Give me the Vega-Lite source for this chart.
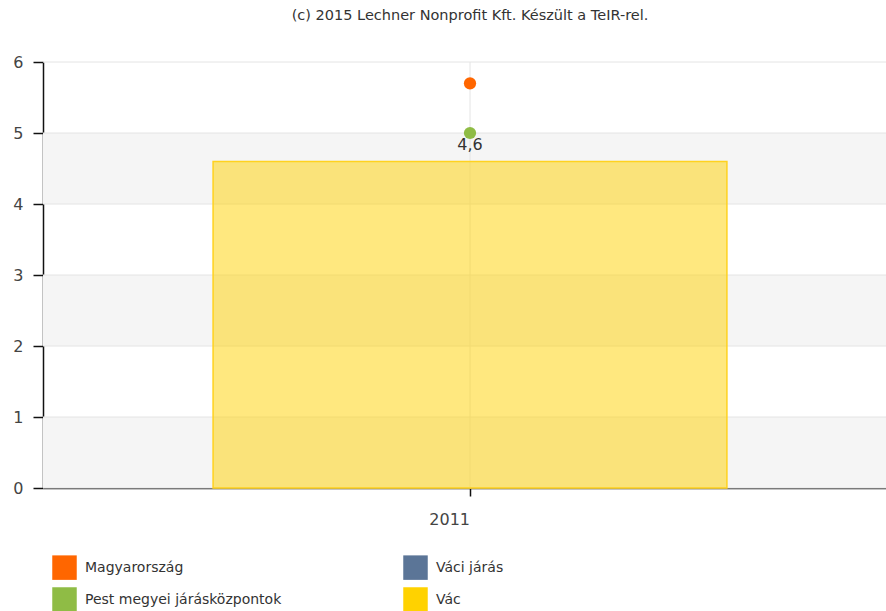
{
  "$schema": "https://vega.github.io/schema/vega-lite/v6.json",
  "width": 854,
  "height": 426,
  "autosize": {"type": "none"},
  "padding": {"left": 43, "top": 62, "right": 0, "bottom": 123},
  "background": "white",
  "title": {
    "text": "(c) 2015 Lechner Nonprofit Kft. Készült a TeIR-rel.",
    "fontSize": 14.5,
    "font": "DejaVu Sans",
    "fontWeight": "normal",
    "color": "#333333",
    "offset": 31,
    "anchor": "middle"
  },
  "datasets": {
    "series": [
      {"year": "2011", "name": "Vác", "value": 4.6},
      {"year": "2011", "name": "Magyarország", "value": 5.7},
      {"year": "2011", "name": "Pest megyei járásközpontok", "value": 5.0}
    ],
    "bands": [
      {"from": 0, "to": 1},
      {"from": 2, "to": 3},
      {"from": 4, "to": 5}
    ],
    "grid": [{"v": 0}, {"v": 1}, {"v": 2}, {"v": 3}, {"v": 4}, {"v": 5}, {"v": 6}],
    "cats": [{"year": "2011"}]
  },
  "layer": [
    {
      "data": {"name": "bands"},
      "mark": {"type": "rect", "color": "#f5f5f5"},
      "encoding": {
        "y": {"field": "from", "type": "quantitative", "title": null, "scale": {"domain": [0, 6], "nice": false}},
        "y2": {"field": "to"}
      }
    },
    {
      "data": {"name": "grid"},
      "mark": {"type": "rule", "color": "#e4e4e4", "strokeWidth": 1},
      "encoding": {
        "y": {"field": "v", "type": "quantitative", "title": null, "scale": {"domain": [0, 6], "nice": false}}
      }
    },
    {
      "data": {"name": "cats"},
      "mark": {"type": "rule", "color": "#e4e4e4", "strokeWidth": 1},
      "encoding": {
        "x": {"field": "year", "type": "nominal", "title": null, "scale": {"paddingInner": 0, "paddingOuter": 0.331}}
      }
    },
    {
      "data": {"name": "series"},
      "transform": [{"filter": "datum.name === 'Vác'"}],
      "mark": {"type": "bar", "fillOpacity": 0.5, "stroke": "#ffd21f", "strokeWidth": 1.5},
      "encoding": {
        "x": {
          "field": "year", "type": "nominal", "title": null,
          "scale": {"paddingInner": 0, "paddingOuter": 0.331},
          "axis": {
            "labelAngle": 0, "grid": false, "bandPosition": 0.5,
            "domainColor": "#111111", "domainWidth": 1.5,
            "tickColor": "#111111", "tickWidth": 1.5, "tickSize": 8,
            "labelFont": "DejaVu Sans", "labelFontSize": 16, "labelColor": "#444444", "labelPadding": 23
          }
        },
        "y": {
          "field": "value", "type": "quantitative", "title": null,
          "scale": {"domain": [0, 6], "nice": false},
          "axis": {
            "values": [0, 1, 2, 3, 4, 5, 6], "format": "d", "grid": false,
            "domainColor": "#111111", "domainWidth": 1.5,
            "tickColor": "#111111", "tickWidth": 1.5, "tickSize": 10,
            "labelFont": "DejaVu Sans", "labelFontSize": 16, "labelColor": "#444444", "labelPadding": 10
          }
        },
        "color": {
          "field": "name", "type": "nominal",
          "scale": {
            "domain": ["Magyarország", "Pest megyei járásközpontok", "Váci járás", "Vác"],
            "range": ["#ff6600", "#8fbc45", "#5b7597", "#ffd200"]
          },
          "sort": null,
          "legend": {
            "orient": "none", "legendX": 9, "legendY": 493,
            "columns": 2, "title": null,
            "symbolType": "square", "symbolSize": 600, "symbolStrokeWidth": 0, "symbolOpacity": 1,
            "labelFont": "DejaVu Sans", "labelFontSize": 14, "labelColor": "#333333", "labelLimit": 400,
            "labelOffset": 8, "rowPadding": 7, "columnPadding": 121
          }
        }
      }
    },
    {
      "data": {"name": "series"},
      "transform": [{"filter": "datum.name !== 'Vác'"}],
      "mark": {"type": "circle", "size": 150, "opacity": 1},
      "encoding": {
        "x": {"field": "year", "type": "nominal", "title": null, "scale": {"paddingInner": 0, "paddingOuter": 0.331}},
        "y": {"field": "value", "type": "quantitative", "title": null, "scale": {"domain": [0, 6], "nice": false}},
        "color": {
          "field": "name", "type": "nominal", "sort": null,
          "scale": {
            "domain": ["Magyarország", "Pest megyei járásközpontok", "Váci járás", "Vác"],
            "range": ["#ff6600", "#8fbc45", "#5b7597", "#ffd200"]
          }
        }
      }
    },
    {
      "data": {"name": "series"},
      "transform": [{"filter": "datum.name === 'Vác'"}],
      "mark": {"type": "text", "dy": -11, "baseline": "alphabetic", "fontSize": 16, "font": "DejaVu Sans", "color": "#333333"},
      "encoding": {
        "x": {"field": "year", "type": "nominal", "title": null, "scale": {"paddingInner": 0, "paddingOuter": 0.331}},
        "y": {"field": "value", "type": "quantitative", "title": null, "scale": {"domain": [0, 6], "nice": false}},
        "text": {"field": "value", "type": "quantitative", "format": ".1f"}
      }
    }
  ],
  "config": {
    "font": "DejaVu Sans",
    "view": {"stroke": null},
    "locale": {
      "number": {"decimal": ",", "thousands": " ", "grouping": [3], "currency": ["", " Ft"]}
    }
  }
}
